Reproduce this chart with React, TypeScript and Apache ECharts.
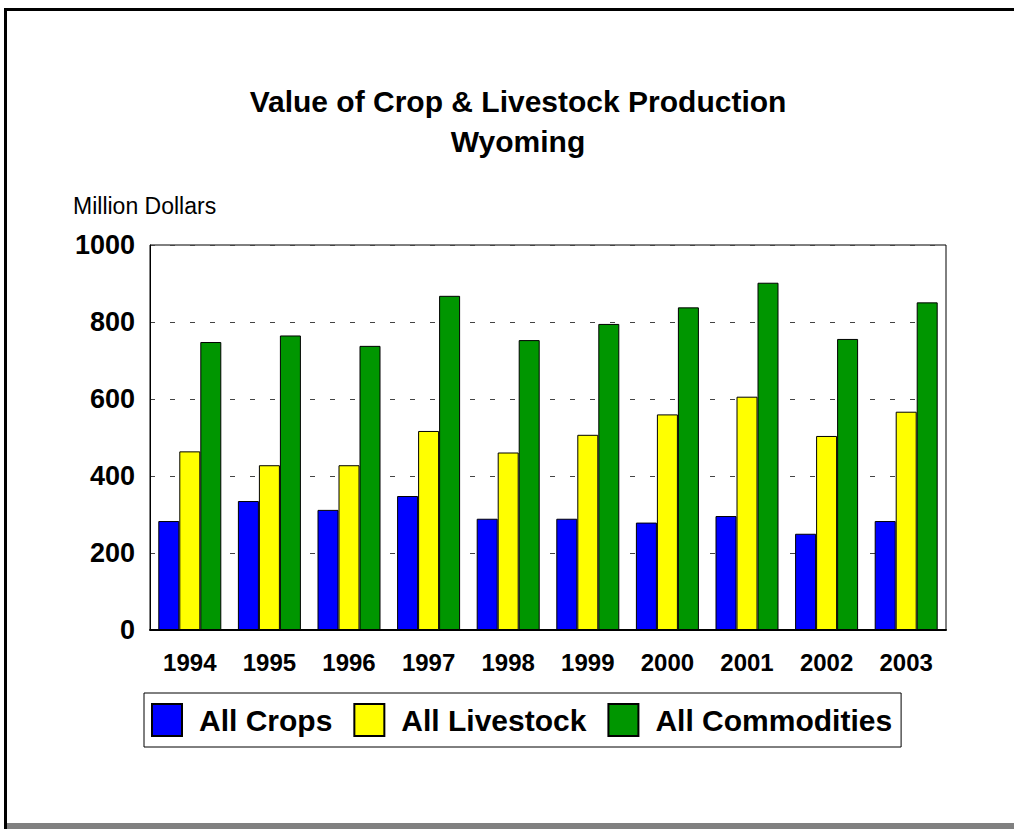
import React, { useEffect, useRef } from "react";
import * as echarts from "echarts";

const years = ["1994", "1995", "1996", "1997", "1998", "1999", "2000", "2001", "2002", "2003"];
const allCrops = [283, 335, 312, 348, 289, 289, 279, 296, 250, 283];
const allLivestock = [464, 428, 428, 517, 461, 507, 560, 606, 504, 567];
const allCommodities = [748, 765, 738, 868, 753, 795, 838, 902, 756, 851];
const yTicks = { min: 0, max: 1000, interval: 200 };

const FONT = '"Liberation Sans", Arial, Helvetica, sans-serif';

export default function App() {
  const ref = useRef<HTMLDivElement>(null);
  useEffect(() => {
    if (!ref.current) return;
    const chart = echarts.init(ref.current, null, { renderer: "svg" });
    const barBase = {
      type: "bar" as const,
      barWidth: 21,
      barGap: "0%",
    };
    chart.setOption({
      animation: false,
      backgroundColor: "#fff",
      textStyle: { fontFamily: FONT },
      title: {
        text: "Value of Crop & Livestock Production\nWyoming",
        left: 518,
        top: 81,
        textAlign: "center",
        padding: 0,
        textStyle: { fontSize: 30, fontWeight: "bold", color: "#000", lineHeight: 40, fontFamily: FONT },
      },
      legend: {
        left: 144,
        top: 693,
        orient: "horizontal",
        borderColor: "#000",
        borderWidth: 1,
        padding: [10, 9, 10, 7],
        itemWidth: 30,
        itemHeight: 32,
        itemGap: 21,
        icon: "rect",
        textStyle: { fontSize: 30, fontWeight: "bold", color: "#000", padding: [0, 0, 0, 12], fontFamily: FONT },
        data: ["All Crops", "All Livestock", "All Commodities"],
      },
      grid: {
        left: 150,
        top: 245,
        right: 68,
        bottom: 199,
        show: true,
        borderColor: "#000",
        borderWidth: 1,
        backgroundColor: "transparent",
      },
      xAxis: {
        type: "category",
        data: years,
        axisLine: { show: true, lineStyle: { color: "#000", width: 2 } },
        axisTick: { show: false },
        axisLabel: { color: "#000", fontSize: 24, fontWeight: "bold", margin: 20, fontFamily: FONT },
      },
      yAxis: {
        type: "value",
        min: yTicks.min,
        max: yTicks.max,
        interval: yTicks.interval,
        axisLine: { show: true, lineStyle: { color: "#000", width: 1 } },
        axisTick: { show: false },
        axisLabel: {
          color: "#000",
          fontSize: 27,
          fontWeight: "bold",
          margin: 15,
          fontFamily: FONT,
          formatter: (v: number) => String(v),
        },
        splitLine: { show: true, lineStyle: { color: "#444", width: 1, type: [5, 15] } },
      },
      graphic: [
        { type: "rect", shape: { x: 4, y: 8, width: 1010, height: 3 }, style: { fill: "#000" } },
        { type: "rect", shape: { x: 4, y: 8, width: 3, height: 821 }, style: { fill: "#000" } },
        { type: "rect", shape: { x: 7, y: 823, width: 1007, height: 6 }, style: { fill: "#808080" } },
        {
          type: "text",
          left: 73,
          top: 194,
          style: { text: "Million Dollars", fontSize: 23, fill: "#000", fontFamily: FONT },
        },
      ],
      series: [
        { ...barBase, name: "All Crops", data: allCrops, itemStyle: { color: "#0000FF", borderColor: "#000", borderWidth: 1 } },
        { ...barBase, name: "All Livestock", data: allLivestock, itemStyle: { color: "#FFFF00", borderColor: "#000", borderWidth: 1 } },
        { ...barBase, name: "All Commodities", data: allCommodities, itemStyle: { color: "#009600", borderColor: "#000", borderWidth: 1 } },
      ],
    });
    return () => chart.dispose();
  }, []);
  return (
    <div
      ref={ref}
      style={{ position: "fixed", left: 0, top: 0, width: 1014, height: 829, background: "#fff" }}
    />
  );
}
